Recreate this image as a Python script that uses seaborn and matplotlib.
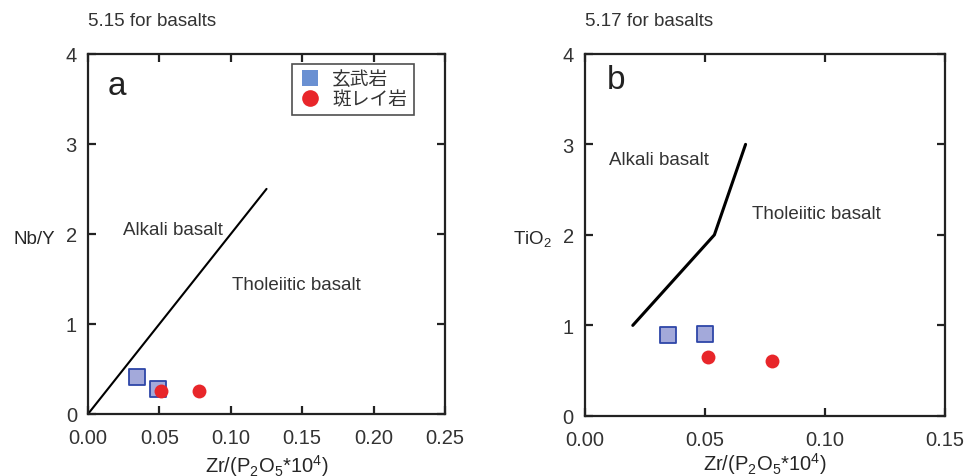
import matplotlib
matplotlib.use('Agg')
import matplotlib.pyplot as plt
from matplotlib.lines import Line2D
import seaborn as sns

# --- data ---
# panel a: Nb/Y vs Zr/(P2O5*10^4)
a_basalt_x = [0.034, 0.049]
a_basalt_y = [0.41, 0.28]
a_gabbro_x = [0.051, 0.078]
a_gabbro_y = [0.26, 0.26]
a_line_x = [0.0, 0.125]
a_line_y = [0.0, 2.5]

# panel b: TiO2 vs Zr/(P2O5*10^4)
b_basalt_x = [0.0345, 0.050]
b_basalt_y = [0.89, 0.90]
b_gabbro_x = [0.0515, 0.078]
b_gabbro_y = [0.65, 0.61]
b_line_x = [0.020, 0.054, 0.067]
b_line_y = [1.0, 2.0, 3.0]

a_xticks = [0.00, 0.05, 0.10, 0.15, 0.20, 0.25]
b_xticks = [0.00, 0.05, 0.10, 0.15]
yticks = [0, 1, 2, 3, 4]

legend_labels = ['玄武岩', '斑レイ岩']

sns.set_style('ticks')
plt.rcParams['font.family'] = ['Liberation Sans', 'Noto Sans CJK JP', 'DejaVu Sans']
plt.rcParams['text.color'] = '#333333'
plt.rcParams['xtick.color'] = '#222222'
plt.rcParams['ytick.color'] = '#222222'
plt.rcParams['xtick.labelcolor'] = '#333333'
plt.rcParams['ytick.labelcolor'] = '#333333'

sq_face = '#A3A9DA'
sq_edge = '#2E46A8'
red = '#E8262A'
fs = 13.5
tfs = 14.5

fig = plt.figure(figsize=(9.65, 4.77), dpi=100)
ax_a = fig.add_axes([0.0912, 0.130, 0.370, 0.755])
ax_b = fig.add_axes([0.606, 0.126, 0.373, 0.759])

def style_axes(ax, xt, xmax, label_y):
    ax.set_xlim(0, xmax)
    ax.set_ylim(0, 4)
    ax.set_xticks(xt)
    ax.set_xticklabels([f'{v:.2f}' for v in xt])
    ax.set_yticks(yticks)
    ax.tick_params(direction='in', length=6, width=1.6, labelsize=tfs,
                   top=True, right=True, pad=8)
    ax.tick_params(axis='x', pad=10)
    for s in ax.spines.values():
        s.set_linewidth(1.6)
        s.set_color('#222222')
    ax.set_xlabel(r'Zr/(P$\mathregular{_2}$O$\mathregular{_5}$*10$\mathregular{^4}$)', fontsize=tfs)
    ax.xaxis.set_label_coords(0.5, label_y)

# panel a
sns.lineplot(x=a_line_x, y=a_line_y, ax=ax_a, color='black', linewidth=1.5)
sns.scatterplot(x=a_basalt_x, y=a_basalt_y, ax=ax_a, marker='s', s=120,
                color=sq_face, edgecolor=sq_edge, linewidth=1.3, zorder=3)
sns.scatterplot(x=a_gabbro_x, y=a_gabbro_y, ax=ax_a, marker='o', s=100,
                color=red, edgecolor=red, linewidth=0, zorder=4)
style_axes(ax_a, a_xticks, 0.25, -0.105)
ax_a.set_ylabel('Nb/Y', fontsize=fs, rotation=0, va='center', ha='center')
ax_a.yaxis.set_label_coords(-0.151, 0.486)
ax_a.text(0.056, 0.889, 'a', transform=ax_a.transAxes, fontsize=24, color='#222222')
ax_a.text(0.0243, 2.0, 'Alkali basalt', fontsize=fs)
ax_a.text(0.1005, 1.39, 'Tholeiitic basalt', fontsize=fs)

handles = [Line2D([], [], marker='s', linestyle='none', markersize=11,
                  markerfacecolor='#6A90D2', markeredgewidth=0),
           Line2D([], [], marker='o', linestyle='none', markersize=12,
                  markerfacecolor=red, markeredgewidth=0)]
leg = ax_a.legend(handles, legend_labels, loc='upper right',
                  bbox_to_anchor=(0.912, 0.972), fontsize=fs, frameon=True,
                  fancybox=False, borderpad=0.35, handletextpad=0.6,
                  labelspacing=0.15, handlelength=1.2, borderaxespad=0)
leg.get_frame().set_edgecolor('#222222')
leg.get_frame().set_linewidth(1.2)

# panel b
sns.lineplot(x=b_line_x, y=b_line_y, ax=ax_b, color='black', linewidth=2.2,
             sort=False)
sns.scatterplot(x=b_basalt_x, y=b_basalt_y, ax=ax_b, marker='s', s=120,
                color=sq_face, edgecolor=sq_edge, linewidth=1.3, zorder=3)
sns.scatterplot(x=b_gabbro_x, y=b_gabbro_y, ax=ax_b, marker='o', s=100,
                color=red, edgecolor=red, linewidth=0, zorder=4)
style_axes(ax_b, b_xticks, 0.15, -0.095)
ax_b.set_ylabel(r'TiO$\mathregular{_2}$', fontsize=fs, rotation=0, va='center', ha='center')
ax_b.yaxis.set_label_coords(-0.144, 0.49)
ax_b.text(0.061, 0.906, 'b', transform=ax_b.transAxes, fontsize=24, color='#222222')
ax_b.text(0.00995, 2.78, 'Alkali basalt', fontsize=fs)
ax_b.text(0.0697, 2.19, 'Tholeiitic basalt', fontsize=fs)

fig.text(88 / 965, 1 - 22 / 477, '5.15 for basalts', fontsize=fs, va='center')
fig.text(585 / 965, 1 - 22 / 477, '5.17 for basalts', fontsize=fs, va='center')

fig.savefig('out.png', dpi=100)
